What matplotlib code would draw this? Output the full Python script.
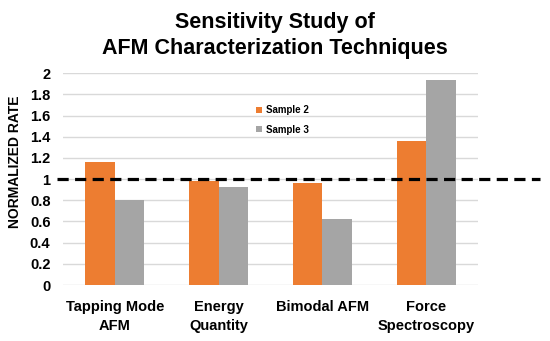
import numpy as np
import matplotlib
matplotlib.use('Agg')
import matplotlib.pyplot as plt

# Dados
categorias = ['Tapping Mode\nAFM', 'Energy\nQuantity', 'Bimodal AFM', 'Force\nSpectroscopy']
sample2 = [1.16, 0.98, 0.96, 1.36]
sample3 = [0.80, 0.93, 0.62, 1.94]
yticks = [0, 0.2, 0.4, 0.6, 0.8, 1, 1.2, 1.4, 1.6, 1.8, 2]
ytick_labels = ['0', '0.2', '0.4', '0.6', '0.8', '1', '1.2', '1.4', '1.6', '1.8', '2']

plt.rcParams['font.family'] = ['Liberation Sans', 'DejaVu Sans']

fig = plt.figure(figsize=(5.5, 3.41), dpi=100)
ax = fig.add_axes([0.1145, 0.1642, 0.7545, 0.6208])

x = np.arange(len(categorias))
w = 0.285
ax.bar(x - w / 2, sample2, w, color='#ED7D31', label='Sample 2', zorder=2)
ax.bar(x + w / 2, sample3, w, color='#A5A5A5', label='Sample 3', zorder=2)

ax.set_xlim(-0.5, 3.5)
ax.set_ylim(0, 2)
ax.set_yticks(yticks)
ax.set_yticklabels(ytick_labels, fontsize=10.5, fontweight='bold')
ax.set_xticks(x)
ax.set_xticklabels(categorias, fontsize=10.5, fontweight='bold', linespacing=1.4)
ax.tick_params(length=0)
ax.tick_params(axis='y', pad=9)
ax.tick_params(axis='x', pad=11)

ax.grid(axis='y', color='#D9D9D9', linewidth=1, zorder=0)
for s in ax.spines.values():
    s.set_visible(False)

# Linha de referência em 1
ax.axhline(1, xmin=-0.015, xmax=1.15, color='black', linestyle=(0, (3.5, 2)),
           linewidth=2.3, clip_on=False, zorder=3)

fig.text(0.027, 0.525, 'NORMALIZED RATE', rotation=90, ha='center', va='center',
         fontsize=10, fontweight='bold')

fig.suptitle('Sensitivity Study of\nAFM Characterization Techniques', x=0.5, y=0.965,
             fontsize=15.5, fontweight='bold', linespacing=1.3)

leg = ax.legend(loc='upper left', bbox_to_anchor=(0.445, 0.89), frameon=False,
                handlelength=0.6, handleheight=0.6, handletextpad=0.4,
                labelspacing=0.95, prop={'weight': 'bold', 'size': 7})

fig.savefig('out.png', dpi=100)
